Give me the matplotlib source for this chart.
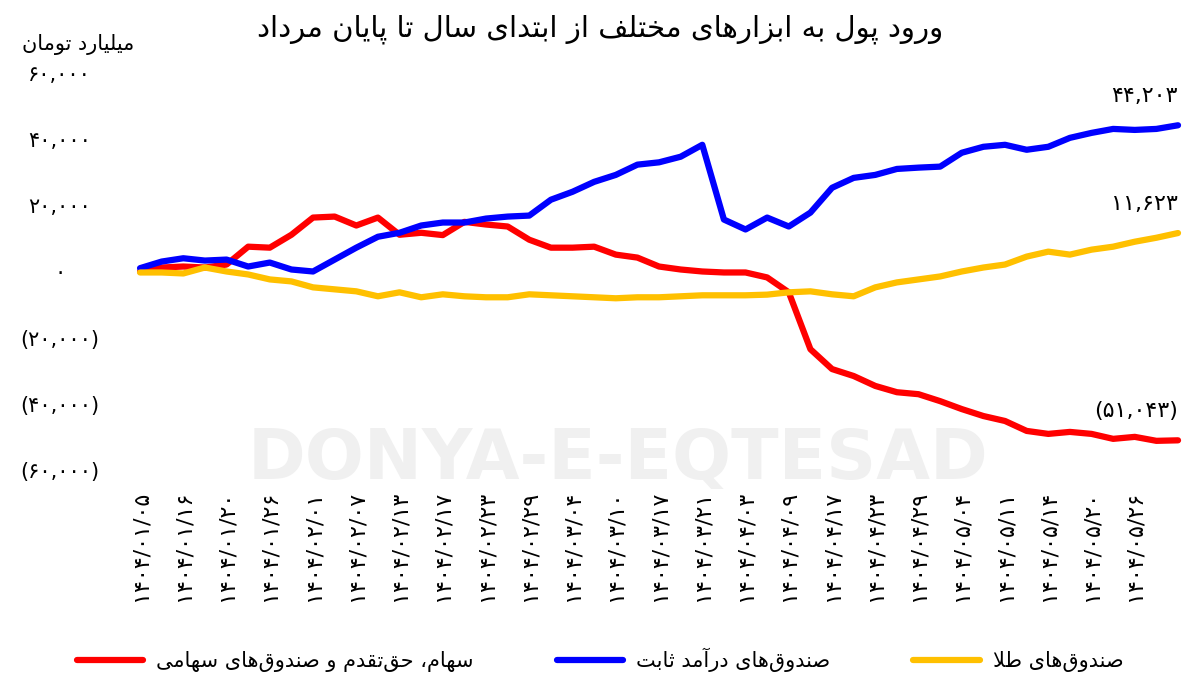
import matplotlib
matplotlib.use("Agg")
import matplotlib.pyplot as plt

# ---------- minimal Arabic/Persian shaping ----------
FORMS = {
    'ا': ('\uFE8D', '\uFE8E', None, None), 'آ': ('\uFE81', '\uFE82', None, None),
    'ب': ('\uFE8F', '\uFE90', '\uFE91', '\uFE92'), 'پ': ('\uFB56', '\uFB57', '\uFB58', '\uFB59'),
    'ت': ('\uFE95', '\uFE96', '\uFE97', '\uFE98'), 'ث': ('\uFE99', '\uFE9A', '\uFE9B', '\uFE9C'),
    'ح': ('\uFEA1', '\uFEA2', '\uFEA3', '\uFEA4'), 'خ': ('\uFEA5', '\uFEA6', '\uFEA7', '\uFEA8'),
    'د': ('\uFEA9', '\uFEAA', None, None), 'ر': ('\uFEAD', '\uFEAE', None, None),
    'ز': ('\uFEAF', '\uFEB0', None, None), 'س': ('\uFEB1', '\uFEB2', '\uFEB3', '\uFEB4'),
    'ص': ('\uFEB9', '\uFEBA', '\uFEBB', '\uFEBC'), 'ط': ('\uFEC1', '\uFEC2', '\uFEC3', '\uFEC4'),
    'ف': ('\uFED1', '\uFED2', '\uFED3', '\uFED4'), 'ق': ('\uFED5', '\uFED6', '\uFED7', '\uFED8'),
    'ک': ('\uFB8E', '\uFB8F', '\uFB90', '\uFB91'), 'ل': ('\uFEDD', '\uFEDE', '\uFEDF', '\uFEE0'),
    'م': ('\uFEE1', '\uFEE2', '\uFEE3', '\uFEE4'), 'ن': ('\uFEE5', '\uFEE6', '\uFEE7', '\uFEE8'),
    'ه': ('\uFEE9', '\uFEEA', '\uFEEB', '\uFEEC'), 'و': ('\uFEED', '\uFEEE', None, None),
    'ی': ('\uFBFC', '\uFBFD', '\uFBFE', '\uFBFF'),
}


def fa(s):
    out = []
    i = 0
    n = len(s)
    while i < n:
        c = s[i]
        if c not in FORMS:
            if c != '\u200c':
                out.append(c)
            i += 1
            continue
        prev = s[i - 1] if i > 0 else ''
        pj = prev in FORMS and FORMS[prev][2] is not None
        if c == 'ل' and i + 1 < n and s[i + 1] in ('ا', 'آ'):
            if s[i + 1] == 'ا':
                out.append('\uFEFC' if pj else '\uFEFB')
            else:
                out.append('\uFEF6' if pj else '\uFEF5')
            i += 2
            continue
        nxt = s[i + 1] if i + 1 < n else ''
        iso, fin, ini, med = FORMS[c]
        nj = ini is not None and nxt in FORMS
        if pj and nj:
            out.append(med)
        elif pj:
            out.append(fin)
        elif nj:
            out.append(ini)
        else:
            out.append(iso)
        i += 1
    return ''.join(out)[::-1]


def digits(s):
    return s.translate(str.maketrans('0123456789', '۰۱۲۳۴۵۶۷۸۹'))


# ---------- data ----------
tick_dates = ['1404/01/05', '1404/01/16', '1404/01/20', '1404/01/26', '1404/02/01', '1404/02/07',
              '1404/02/13', '1404/02/17', '1404/02/23', '1404/02/29', '1404/03/04', '1404/03/10',
              '1404/03/17', '1404/03/21', '1404/04/03', '1404/04/09', '1404/04/17', '1404/04/23',
              '1404/04/29', '1404/05/04', '1404/05/11', '1404/05/14', '1404/05/20', '1404/05/26']

stocks = [0, 1200, 1500, 1200, 2100, 7500, 7200, 11100, 16300, 16600, 13900, 16300, 11100, 11700,
          11000, 15000, 14200, 13600, 9600, 7200, 7200, 7500, 5100, 4200, 1500, 600, 0, -300, -300,
          -1800, -6300, -23500, -29500, -31600, -34600, -36500, -37100, -39200, -41600, -43700,
          -45200, -48200, -49100, -48500, -49100, -50600, -50000, -51200, -51043]
fixed_income = [1000, 3000, 4000, 3300, 3600, 1500, 2700, 600, 0, 3600, 7200, 10500, 11700, 13900,
                14800, 14800, 16000, 16600, 16900, 21700, 24100, 27100, 29200, 32300, 33000, 34700,
                38300, 15700, 12700, 16300, 13600, 17800, 25300, 28300, 29200, 31000, 31400, 31700,
                35900, 37700, 38300, 36800, 37700, 40400, 41900, 43100, 42800, 43100, 44203]
gold = [-300, -300, -600, 1200, 0, -900, -2400, -3000, -4800, -5400, -6000, -7500, -6300, -7800,
        -6900, -7500, -7800, -7800, -6900, -7200, -7500, -7800, -8100, -7800, -7800, -7500, -7200,
        -7200, -7200, -7000, -6300, -6000, -6900, -7500, -4800, -3300, -2400, -1500, 0, 1200, 2100,
        4500, 6000, 5100, 6600, 7500, 9000, 10200, 11623]

yticks = [60000, 40000, 20000, 0, -20000, -40000, -60000]

series_names = ['سهام، حق‌تقدم و صندوق‌های سهامی', 'صندوق‌های درآمد ثابت', 'صندوق‌های طلا']
colors = ['#FF0000', '#0000FF', '#FFC000']
title = 'ورود پول به ابزارهای مختلف از ابتدای سال تا پایان مرداد'
unit = 'میلیارد تومان'

# ---------- plot ----------
plt.rcParams['font.family'] = 'DejaVu Sans'
fig = plt.figure(figsize=(12, 6.86), dpi=100)
ax = fig.add_axes([0.1077, 0.3053, 0.883, 0.5979])
x = list(range(len(stocks)))
for vals, c, name in zip([stocks, fixed_income, gold], colors, series_names):
    ax.plot(x, vals, color=c, lw=4.5, label=fa(name), solid_capstyle='round',
            solid_joinstyle='round', zorder=3)

ax.set_xlim(-0.5, 48.5)
ax.set_ylim(-62000, 62000)
for s in ax.spines.values():
    s.set_visible(False)

ax.set_yticks(yticks)
ylabels = []
for v in yticks:
    t = digits(f'{abs(v):,}')
    ylabels.append(f'({t})' if v < 0 else t)
ax.set_yticklabels(ylabels, fontsize=15, ha='center')
ax.tick_params(axis='y', length=0, pad=50)

ax.set_xticks(list(range(0, 48, 2)))
ax.set_xticklabels([digits(d) for d in tick_dates], rotation=90, fontsize=16, va='top', ha='center')
ax.tick_params(axis='x', length=0, pad=10)

# end labels
ax.annotate(digits('44,203'), (48, fixed_income[-1]), xytext=(0, 14), textcoords='offset points',
            ha='right', va='bottom', fontsize=16)
ax.annotate(digits('11,623'), (48, gold[-1]), xytext=(0, 14), textcoords='offset points',
            ha='right', va='bottom', fontsize=16)
ax.annotate('(' + digits('51,043') + ')', (48, stocks[-1]), xytext=(0, 14), textcoords='offset points',
            ha='right', va='bottom', fontsize=16)

# watermark
fig.text(0.515, 0.33, 'DONYA-E-EQTESAD', fontsize=50, fontweight='bold', color='#F0F0F0',
         ha='center', va='center', zorder=0)

fig.text(0.5, 0.958, fa(title), fontsize=21, ha='center', va='center')
fig.text(0.065, 0.935, fa(unit), fontsize=15, ha='center', va='center')

fig.legend(loc='center', bbox_to_anchor=(0.5, 0.038), ncol=3, frameon=False, fontsize=15,
           handlelength=3.2, columnspacing=4, handletextpad=0.6)

fig.savefig('out.png', dpi=100)
